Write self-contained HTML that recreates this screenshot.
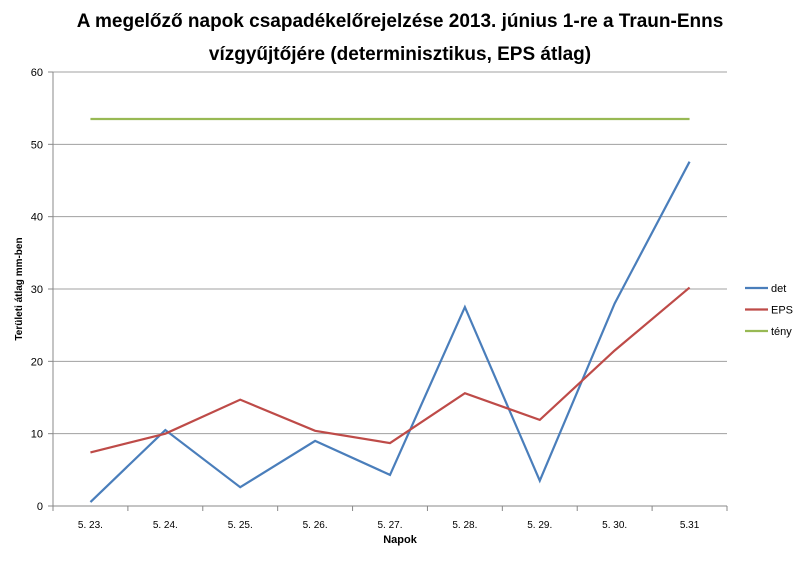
<!DOCTYPE html>
<html><head><meta charset="utf-8"><style>
body{margin:0;background:#fff;font-family:"Liberation Sans",sans-serif}
</style></head><body>
<svg id="chart" width="800" height="560" xmlns="http://www.w3.org/2000/svg">
<rect width="800" height="560" fill="#fff"/>
<text x="400" y="27" text-anchor="middle" font-size="19" font-weight="bold" fill="#000"><tspan x="400">A megelőző napok csapadékelőrejelzése 2013. június 1-re a Traun-Enns</tspan><tspan x="400" dy="33">vízgyűjtőjére (determinisztikus, EPS átlag)</tspan></text>
<g id="grid"></g><g id="axes"></g><g id="series"></g>
<text x="400" y="543" text-anchor="middle" font-size="11" font-weight="bold">Napok</text>
<text transform="translate(22,289) rotate(-90)" text-anchor="middle" font-size="10" font-weight="bold">Területi átlag mm-ben</text>
<g id="legend"></g>
</svg>
<script>
const categories=["5. 23.","5. 24.","5. 25.","5. 26.","5. 27.","5. 28.","5. 29.","5. 30.","5.31"];
const detValues=[0.55,10.5,2.6,9.0,4.3,27.5,3.5,28.0,47.6];
const epsValues=[7.4,10.0,14.7,10.4,8.7,15.6,11.9,21.5,30.2];
const tenyValues=[53.5,53.5,53.5,53.5,53.5,53.5,53.5,53.5,53.5];
const yTicks=[0,10,20,30,40,50,60];
const seriesNames=["det","EPS","tény"];
const NS="http://www.w3.org/2000/svg";
const L=53,R=727,T=72,B=506,YMAX=60;
const band=(R-L)/categories.length;
const xS=i=>L+band*(i+0.5);
const yS=v=>B-(v/YMAX)*(B-T);
function mk(tag,attrs,parent){const e=document.createElementNS(NS,tag);for(const k in attrs)e.setAttribute(k,attrs[k]);parent.appendChild(e);return e;}
const grid=document.getElementById('grid'),axes=document.getElementById('axes'),ser=document.getElementById('series'),leg=document.getElementById('legend');
yTicks.forEach(t=>{
  const y=yS(t);
  if(t>0){const g=mk('line',{x1:L,x2:R,y1:y,y2:y,stroke:'#a0a0a0','stroke-width':1},grid);
  
  }
  const tk=mk('line',{x1:L-5,x2:L,y1:y,y2:y,stroke:'#888'},axes);
  
  
  const tx=mk('text',{x:L-10,y:y+4,'text-anchor':'end','font-size':11},axes);
  tx.textContent=t;
  
  
});
const ya=mk('line',{x1:L,x2:L,y1:T,y2:B,stroke:'#888'},axes);


const xa=mk('line',{x1:L,x2:R,y1:B,y2:B,stroke:'#888'},axes);


for(let i=0;i<=categories.length;i++){
  const x=L+band*i;
  const tk=mk('line',{x1:x,x2:x,y1:B,y2:B+5,stroke:'#888'},axes);
  
  
}
categories.forEach((c,i)=>{
  const tx=mk('text',{x:xS(i),y:B+22,'text-anchor':'middle','font-size':10},axes);
  tx.textContent=c;
  
  
});
const data=[detValues,epsValues,tenyValues];
const colors=["#4a7ebb","#be4b48","#98b954"];
data.forEach((arr,s)=>{
  const p=mk('polyline',{points:arr.map((v,i)=>xS(i)+','+yS(v)).join(' '),fill:'none',stroke:colors[s],'stroke-width':2.2},ser);
  
  
  const y=288+s*21.5;
  const g=mk('g',{},leg);
  
  
  mk('line',{x1:745,x2:768,y1:y,y2:y,stroke:colors[s],'stroke-width':2.2},g);
  const t=mk('text',{x:771,y:y+4,'font-size':11},g);
  t.textContent=seriesNames[s];
});
</script>
</body></html>
